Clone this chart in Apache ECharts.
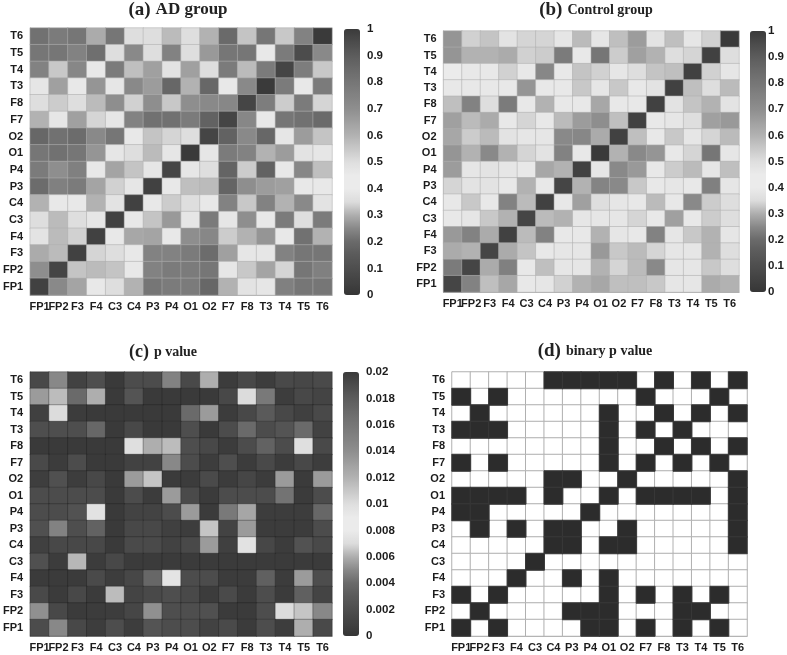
<!DOCTYPE html>
<html>
<head>
<meta charset="utf-8">
<style>html,body{margin:0;padding:0;background:#fff}#c{width:787px;height:655px}</style>
<script src="https://cdn.jsdelivr.net/npm/echarts@6/dist/echarts.min.js"></script>
</head>
<body>
<div id="c"></div>
<script>
const channels = ['FP1','FP2','F3','F4','C3','C4','P3','P4','O1','O2','F7','F8','T3','T4','T5','T6'];
// rows listed top (T6) to bottom (FP1), columns FP1..T6
const adGroup = [
[.82,.78,.8,.62,.8,.5,.5,.58,.5,.6,.85,.56,.8,.55,.75,1],
[.8,.8,.75,.83,.5,.72,.5,.75,.5,.67,.8,.8,.46,.78,.95,.72],
[.75,.55,.73,.46,.78,.57,.65,.48,.65,.5,.78,.58,.78,.97,.77,.55],
[.47,.65,.46,.68,.47,.72,.66,.86,.6,.86,.46,.72,1,.78,.46,.78],
[.5,.54,.5,.58,.7,.53,.7,.55,.7,.72,.73,.97,.77,.54,.78,.52],
[.6,.47,.65,.52,.47,.75,.82,.82,.78,.88,.97,.73,.46,.8,.82,.85],
[.86,.82,.84,.72,.8,.46,.56,.52,.5,.97,.88,.72,.86,.47,.66,.56],
[.8,.82,.8,.68,.47,.5,.58,.47,1,.47,.78,.75,.6,.66,.48,.47],
[.78,.7,.76,.46,.64,.56,.47,.97,.47,.5,.87,.54,.88,.46,.73,.57],
[.84,.76,.78,.64,.53,.47,.98,.46,.57,.58,.87,.7,.66,.65,.46,.46],
[.6,.46,.46,.6,.48,.98,.46,.54,.5,.46,.75,.55,.75,.6,.72,.48],
[.5,.58,.5,.47,.98,.46,.56,.67,.47,.78,.47,.7,.46,.78,.5,.78],
[.48,.58,.53,.98,.46,.63,.64,.46,.7,.73,.54,.6,.68,.46,.82,.6],
[.62,.58,.98,.52,.5,.46,.75,.75,.78,.84,.65,.47,.47,.75,.8,.8],
[.7,.97,.56,.58,.56,.46,.75,.78,.78,.8,.47,.55,.64,.52,.8,.76],
[.98,.72,.64,.46,.5,.6,.8,.78,.78,.86,.6,.48,.47,.76,.8,.8]
];
const controlGroup = [
[.68,.53,.56,.48,.52,.52,.47,.58,.47,.57,.66,.48,.57,.47,.53,1],
[.68,.6,.6,.62,.53,.54,.78,.46,.8,.54,.65,.6,.5,.52,.98,.5],
[.45,.46,.46,.53,.46,.73,.46,.56,.53,.47,.5,.56,.57,.98,.53,.47],
[.46,.46,.46,.46,.68,.46,.46,.55,.47,.55,.46,.48,.98,.57,.5,.58],
[.57,.75,.5,.78,.46,.6,.46,.46,.63,.46,.46,.98,.48,.56,.6,.48],
[.65,.58,.62,.46,.52,.46,.58,.66,.7,.57,.98,.46,.47,.5,.65,.67],
[.63,.54,.58,.48,.47,.47,.72,.73,.62,.98,.57,.46,.55,.47,.52,.58],
[.68,.6,.72,.6,.52,.48,.75,.46,1,.6,.72,.68,.46,.52,.8,.47],
[.66,.47,.48,.47,.46,.63,.6,.98,.47,.72,.67,.46,.54,.58,.47,.57],
[.52,.48,.48,.46,.6,.46,.97,.6,.74,.72,.55,.46,.47,.46,.76,.47],
[.46,.55,.46,.75,.58,.98,.46,.65,.5,.47,.46,.58,.46,.72,.54,.5],
[.46,.47,.55,.6,.97,.58,.6,.47,.47,.47,.52,.46,.65,.46,.54,.5],
[.67,.75,.62,.98,.58,.75,.46,.46,.6,.47,.46,.75,.47,.55,.6,.47],
[.62,.6,.97,.62,.56,.46,.47,.47,.67,.55,.58,.52,.47,.47,.6,.5],
[.78,.97,.62,.76,.46,.57,.47,.47,.6,.52,.58,.72,.47,.47,.55,.5],
[.97,.75,.57,.63,.46,.47,.53,.6,.63,.57,.57,.55,.47,.47,.62,.6]
];
// p values in thousandths
const pValueMilli = [
[1.5,5,1,2,.3,1.8,1.8,4.8,1.6,6,.5,1.5,.6,1.6,1.4,1.7],
[5.5,6.3,4,6,.3,2.5,.3,.3,.3,.3,1.5,7,4.5,.6,1.5,1.2],
[.8,7,.5,.3,.3,.3,.3,.3,4,5.5,.5,1.5,3,1.5,.8,1.6],
[2,2,2,3.8,.3,1.5,.3,.3,2,.3,1.8,4,1.8,2.5,4,1],
[.3,.3,.3,.3,.3,7.2,6,6.3,2,1.5,.5,1.8,3.5,1.8,7.2,1.6],
[1.6,.5,1.8,.3,.3,1,1,5,1.8,.6,2,.5,1.6,.5,1.5,.6],
[.7,2.2,.6,1.5,.3,5.5,6.5,.4,.5,1.7,.5,1.3,.5,5.5,.4,5.5],
[1.8,1.8,1.8,1.8,.3,1.8,.5,5.5,1.7,.4,1.8,1.8,1.8,4.3,.4,1.8],
[1.8,1.8,2.3,7.4,.3,1.1,1.1,1.8,5.5,.4,4.5,5.8,.6,.6,.6,3.8],
[2.2,4.8,2,3.5,.3,1.5,1.5,.8,.6,6.5,1.1,5.5,.5,.5,.5,1.8],
[.8,1.5,1.5,1.5,.3,1.7,1.7,1,1.6,5.5,.8,7.4,1.4,.5,2.3,1.6],
[2.2,.5,6.2,.5,1.5,.4,.4,.4,.4,.4,.4,.4,.4,.4,.4,.4],
[.4,.4,.4,1.7,.6,1.4,3.8,7.5,1.8,1.8,.5,.5,3.4,.5,5.5,1.9],
[1.6,.4,1.5,.4,6.3,1.2,1.6,2,1.6,.5,1.7,.4,1.9,.4,3.4,1.2],
[5.2,1.5,.4,.5,.6,1.3,5.2,2,2,2.2,.4,.4,1.9,7,6.5,5],
[1.8,5,1.5,.6,1.9,.6,2.5,1.9,1.9,1,1.7,.4,1.9,.6,6,1.6]
];
const binaryP = [
[0,0,0,0,0,1,1,1,1,1,0,1,0,1,0,1],
[1,0,1,0,0,0,0,0,0,0,1,0,0,0,1,0],
[0,1,0,0,0,0,0,0,1,0,0,1,0,1,0,1],
[1,1,1,0,0,0,0,0,1,0,1,0,1,0,0,0],
[0,0,0,0,0,0,0,0,1,0,0,1,0,1,0,1],
[1,0,1,0,0,0,0,0,1,0,1,0,1,0,1,0],
[0,0,0,0,0,1,1,0,0,1,0,0,0,0,0,1],
[1,1,1,1,0,1,0,0,1,0,1,1,1,1,0,1],
[1,1,0,0,0,0,0,1,0,0,0,0,0,0,0,1],
[0,1,0,1,0,1,1,0,0,1,0,0,0,0,0,1],
[0,0,0,0,0,1,1,0,1,1,0,0,0,0,0,1],
[0,0,0,0,1,0,0,0,0,0,0,0,0,0,0,0],
[0,0,0,1,0,0,1,0,1,0,0,0,0,0,0,0],
[1,0,1,0,0,0,0,0,1,0,1,0,1,0,1,0],
[0,1,0,0,0,0,1,1,1,0,0,0,1,1,0,0],
[1,0,1,0,0,0,0,1,1,0,1,0,1,0,1,0]
];
const grayRamp = ['#363636','#424242','#4e4e4e','#5a5a5a','#6a6a6a','#888888','#aeaeae','#dcdcdc','#ebebeb','#ebebeb','#dedede','#c8c8c8','#b2b2b2','#a0a0a0','#8e8e8e','#828282','#767676','#6a6a6a','#5c5c5c','#4c4c4c','#3a3a3a'];

const panels = [
  {rows: adGroup, scale: 1, grid: {left: 28, top: 28, width: 304, height: 267}, bar: {left: 344, top: 29, width: 16, height: 266}, max: 1, step: .1, border: 'rgba(175,175,175,.55)'},
  {rows: controlGroup, scale: 1, grid: {left: 443.5, top: 31, width: 295.5, height: 261}, bar: {left: 750, top: 31, width: 16, height: 261}, max: 1, step: .1, border: 'rgba(175,175,175,.55)'},
  {rows: pValueMilli, scale: .001, grid: {left: 27, top: 372, width: 305, height: 264}, bar: {left: 343, top: 372, width: 16, height: 264}, max: .02, step: .002, border: 'rgba(30,30,30,.35)'},
  {rows: binaryP, scale: 1, grid: {left: 452, top: 372, width: 295, height: 264}, max: 1, binary: true, border: '#b0b0b0'}
];
const labelFont = {fontFamily: '"Liberation Sans"', fontWeight: 'bold', fontSize: 11, color: '#1c1c1c'};
const serif = '"Liberation Serif"';

const option = {
  animation: false,
  backgroundColor: '#fff',
  title: [
    {left: 178, top: 10, textAlign: 'center', textVerticalAlign: 'middle', padding: 0,
      text: '{a|(a)} {b|AD group}', textStyle: {rich: {a: {fontFamily: serif, fontWeight: 'bold', fontSize: 19, color: '#222'}, b: {fontFamily: serif, fontWeight: 'bold', fontSize: 17, color: '#222'}}}},
    {left: 596, top: 10, textAlign: 'center', textVerticalAlign: 'middle', padding: 0,
      text: '{a|(b)} {b|Control group}', textStyle: {rich: {a: {fontFamily: serif, fontWeight: 'bold', fontSize: 19, color: '#222'}, b: {fontFamily: serif, fontWeight: 'bold', fontSize: 14, color: '#222'}}}},
    {left: 163, top: 352, textAlign: 'center', textVerticalAlign: 'middle', padding: 0,
      text: '{a|(c)} {b|p value}', textStyle: {rich: {a: {fontFamily: serif, fontWeight: 'bold', fontSize: 18, color: '#222'}, b: {fontFamily: serif, fontWeight: 'bold', fontSize: 14, color: '#222'}}}},
    {left: 595, top: 351, textAlign: 'center', textVerticalAlign: 'middle', padding: 0,
      text: '{a|(d)} {b|binary p value}', textStyle: {rich: {a: {fontFamily: serif, fontWeight: 'bold', fontSize: 19, color: '#222'}, b: {fontFamily: serif, fontWeight: 'bold', fontSize: 14, color: '#222'}}}}
  ],
  grid: [], xAxis: [], yAxis: [], series: [], visualMap: []
};

panels.forEach((p) => {
  const gi = option.grid.length;
  option.grid.push(p.grid);
  option.xAxis.push({type: 'category', gridIndex: gi, data: channels, position: 'bottom',
    axisLine: {show: true, lineStyle: {color: '#b0b0b0'}}, axisTick: {show: false}, splitLine: {show: false},
    axisLabel: Object.assign({interval: 0, margin: 6}, labelFont)});
  option.yAxis.push({type: 'category', gridIndex: gi, data: channels, position: 'left',
    axisLine: {show: true, lineStyle: {color: '#b0b0b0'}}, axisTick: {show: false}, splitLine: {show: false},
    axisLabel: Object.assign({interval: 0, margin: 7}, labelFont)});
  let cells = [];
  p.rows.forEach((row, r) => row.forEach((v, c) => cells.push([c, channels.length - 1 - r, v * p.scale])));
  if (p.binary) {
    cells.sort((a, b) => a[2] - b[2]);
    cells = cells.map(d => ({value: d, itemStyle: {borderColor: d[2] ? '#383838' : p.border, borderWidth: 1}}));
  }
  const si = option.series.length;
  option.series.push({type: 'heatmap', xAxisIndex: gi, yAxisIndex: gi, data: cells, silent: true,
    itemStyle: {borderColor: p.border, borderWidth: 1}, emphasis: {disabled: true}, progressive: 0});
  if (p.binary) {
    option.visualMap.push({type: 'continuous', show: false, seriesIndex: si, min: 0, max: 1, dimension: 2,
      inRange: {color: ['#ffffff', '#2c2c2c']}});
  } else {
    option.visualMap.push({type: 'continuous', show: true, seriesIndex: si, min: 0, max: p.max, dimension: 2,
      left: p.bar.left, top: p.bar.top, itemWidth: p.bar.width, itemHeight: p.bar.height, padding: 0,
      borderRadius: 0, calculable: false, hoverLink: false, text: null, showLabel: false, orient: 'vertical',
      inRange: {color: grayRamp}});
    const bi = option.grid.length;
    option.grid.push({left: p.bar.left, top: p.bar.top, width: p.bar.width, height: p.bar.height});
    option.xAxis.push({type: 'value', gridIndex: bi, show: false, min: 0, max: 1});
    option.yAxis.push({type: 'value', gridIndex: bi, position: 'right', min: 0, max: p.max, interval: p.step,
      axisLine: {show: false}, axisTick: {show: false}, splitLine: {show: false},
      axisLabel: Object.assign({margin: 7}, labelFont, {fontSize: 11.5})});
  }
});

echarts.init(document.getElementById('c'), null, {renderer: 'canvas'}).setOption(option);
</script>
</body>
</html>
